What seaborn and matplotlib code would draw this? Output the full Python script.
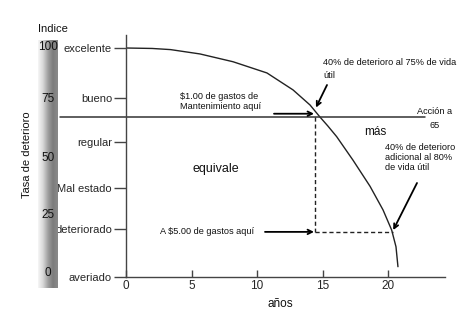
import numpy as np
import matplotlib
matplotlib.use("Agg")
import matplotlib.pyplot as plt
from matplotlib.colors import LinearSegmentedColormap
import seaborn as sns
import pandas as pd

# ---- data ----
anos = [0, 2.0, 3.4, 5.65, 8.17, 10.76, 12.75, 14.05, 14.8, 15.4, 16.08, 17.33, 18.63, 19.62, 20.28, 20.61, 20.76]
indice = [100, 99.8, 99.3, 97.4, 94.0, 89.1, 81.7, 75.1, 69.9, 66.0, 61.3, 51.0, 39.6, 29.3, 20.5, 13.2, 4.5]

estado_labels = ["excelente", "bueno", "regular", "Mal estado", "deteriorado", "averiado"]
estado_pos = [100, 78, 59, 39, 21, 0]
x_ticks = [5, 10, 15, 20]
indice_bar_labels = ["100", "75", "50", "25", "0"]

nivel_accion = 70        # horizontal action line
anio_accion = 14.4       # vertical dashed line
nivel_5 = 19.7           # horizontal dashed line
anio_5 = 20.4            # end of horizontal dashed line

W, H = 476, 323
sns.set_theme(style="white")
plt.rcParams["font.family"] = ["Liberation Sans", "DejaVu Sans"]

fig = plt.figure(figsize=(W / 100, H / 100), dpi=100)
fig.patch.set_facecolor("white")

# axes geometry (pixels)
x0p, x1p, y0p, y1p = 126, 445, 277, 35
ax = fig.add_axes([x0p / W, 1 - y0p / H, (x1p - x0p) / W, (y0p - y1p) / H])
xs = 13.1   # px per year
ys = 2.29   # px per index unit
ax.set_xlim(0, (x1p - x0p) / xs)
ax.set_ylim(0, (y0p - y1p) / ys)

def d(px, py):
    return ((px - x0p) / xs, (y0p - py) / ys)

df = pd.DataFrame({"anos": anos, "indice": indice})
sns.lineplot(data=df, x="anos", y="indice", ax=ax, color="#222222", lw=1.0, sort=False)

for s in ["top", "right"]:
    ax.spines[s].set_visible(False)
for s in ["left", "bottom"]:
    ax.spines[s].set_color("#444444")
    ax.spines[s].set_linewidth(1.0)

ax.set_xticks([0] + x_ticks)
ax.set_xticklabels(["0"] + [str(t) for t in x_ticks], fontsize=8.5)
ax.tick_params(axis="x", direction="in", length=5, width=1, color="#444444", pad=2)
ax.set_yticks(estado_pos)
ax.set_yticklabels(estado_labels, fontsize=8)
ax.tick_params(axis="y", direction="out", length=9, width=1, color="#444444", pad=1)
ax.tick_params(left=True, bottom=True)
ax.set_xlabel("")
ax.set_ylabel("")

# action line
ax.plot([d(60, 0)[0], d(425, 0)[0]], [nivel_accion, nivel_accion], color="#333333", lw=1.1, clip_on=False)
# dashed lines
ax.plot([anio_accion, anio_accion], [nivel_accion, nivel_5], color="#222222", lw=1.0, ls=(0, (3, 2)))
ax.plot([anio_accion, anio_5], [nivel_5, nivel_5], color="#222222", lw=1.0, ls=(0, (3, 2)))

arrow_kw = dict(arrowstyle="->", color="black", lw=1.3, mutation_scale=8, shrinkA=0, shrinkB=0)
ax.annotate("", xy=(anio_accion - 0.05, nivel_accion + 1.3), xytext=(d(274, 0)[0], nivel_accion + 1.3), arrowprops=arrow_kw)
ax.annotate("", xy=(anio_accion - 0.05, nivel_5), xytext=(d(265, 0)[0], nivel_5), arrowprops=arrow_kw)
ax.annotate("", xy=(anio_accion + 0.1, nivel_accion + 4), xytext=d(327, 85), arrowprops=arrow_kw)
ax.annotate("", xy=(anio_5, nivel_5 + 0.8), xytext=d(417, 183), arrowprops=arrow_kw)

small = 6.6
def t(px, py, s, **kw):
    x, y = d(px, py)
    ax.text(x, y, s, clip_on=False, color="#111111", **kw)

t(323, 58, "40% de deterioro al 75% de vida\nútil", fontsize=small, ha="left", va="top", linespacing=1.6)
t(180, 92, "$1.00 de gastos de\nMantenimiento aquí", fontsize=small, ha="left", va="top", linespacing=1.2)
t(417, 111, "Acción a", fontsize=small, ha="left", va="center")
t(435, 126, "65", fontsize=small, ha="center", va="center")
t(375, 132, "más", fontsize=8.5, ha="center", va="center")
t(385, 143, "40% de deterioro\nadicional al 80%\nde vida útil", fontsize=small, ha="left", va="top", linespacing=1.15)
t(216, 169, "equivale", fontsize=9, ha="center", va="center")
t(160, 232, "A $5.00 de gastos aquí", fontsize=small, ha="left", va="center")
t(280, 304, "años", fontsize=8.5, ha="center", va="center")

# gradient bar
bx0, bx1, by0, by1 = 38, 58, 40, 288
bax = fig.add_axes([bx0 / W, 1 - by1 / H, (bx1 - bx0) / W, (by1 - by0) / H])
cmap = LinearSegmentedColormap.from_list("g", ["#f6f6f6", "#d8d8d8", "#a0a0a0", "#7c7c7c", "#8a8a8a"])
grad = np.linspace(0, 1, 64).reshape(1, -1)
bax.imshow(grad, aspect="auto", cmap=cmap, extent=[0, 1, 0, 1])
bax.set_axis_off()

bar_label_y = [47, 99, 158, 215, 273]
for lab, py in zip(indice_bar_labels, bar_label_y):
    fig.text(48 / W, 1 - py / H, lab, fontsize=8.5, ha="center", va="center", color="#111111")

fig.text(53 / W, 1 - 29 / H, "Indice", fontsize=8, ha="center", va="center", color="#111111")
fig.text(27 / W, 1 - 155 / H, "Tasa de deterioro", fontsize=8, ha="center", va="center",
         rotation=90, color="#111111")

fig.savefig("out.png", dpi=100, facecolor="white")
